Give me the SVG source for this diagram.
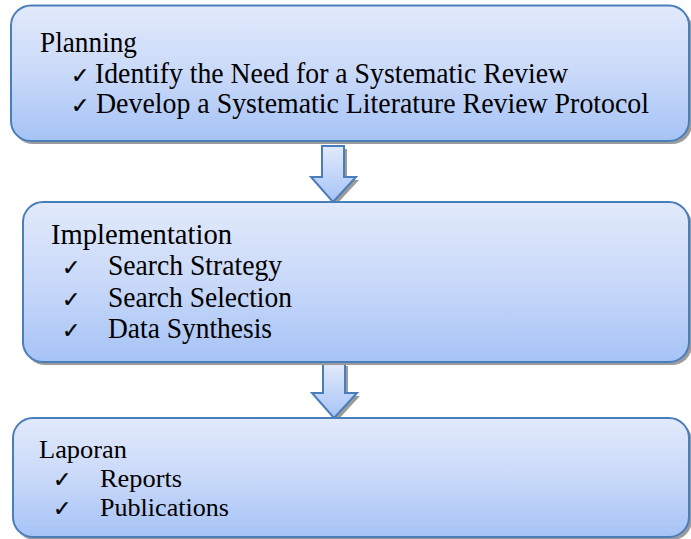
<svg xmlns="http://www.w3.org/2000/svg" width="691" height="539" viewBox="0 0 691 539">
  <defs>
    <linearGradient id="boxFill" x1="0" y1="0" x2="0" y2="1">
      <stop offset="0" stop-color="#e2eafb"/>
      <stop offset="0.5" stop-color="#c9d9f9"/>
      <stop offset="1" stop-color="#a6c3f6"/>
    </linearGradient>
    <linearGradient id="arrowFill" x1="0" y1="0" x2="0" y2="1">
      <stop offset="0" stop-color="#e2eafb"/>
      <stop offset="1" stop-color="#a6c3f6"/>
    </linearGradient>
  </defs>
  <style>
    .shadow { fill: #9b9b9b; }
    .box { fill: url(#boxFill); stroke: #4a7ebb; stroke-width: 2; }
    .arrow { fill: url(#arrowFill); stroke: #4a7ebb; stroke-width: 2; stroke-linejoin: miter; }
    .cambria { font-family: "Liberation Serif", "DejaVu Serif", serif; font-size: 30px; fill: #000; }
    .times { font-family: "Liberation Serif", "Times New Roman", serif; font-size: 26px; fill: #000; }
    .check { font-family: "DejaVu Sans", sans-serif; font-size: 22px; fill: #000; stroke: #000; stroke-width: 0.3; }
  </style>

  <!-- connectors: block arrows between stages -->
  <g id="connectors">
    <path class="shadow" d="M325,149 H347 V180 H359 L336,205 L314,180 H325 Z"/>
    <path class="arrow" d="M322,146 H344 V177 H356 L333,202 L311,177 H322 Z"/>
    <path class="shadow" d="M326,366 H348 V396 H360 L337,421 L315,396 H326 Z"/>
    <path class="arrow" d="M323,363 H345 V393 H357 L334,418 L312,393 H323 Z"/>
  </g>

  <g id="planning">
    <rect class="shadow" x="13" y="8.5" width="679" height="135.5" rx="20"/>
    <rect class="box" x="11" y="5.5" width="678" height="135.5" rx="20"/>
    <text class="cambria" x="40" y="52" textLength="97" lengthAdjust="spacingAndGlyphs">Planning</text>
    <text class="check" x="71" y="83">✓</text>
    <text class="cambria" x="95" y="83" textLength="473" lengthAdjust="spacingAndGlyphs">Identify the Need for a Systematic Review</text>
    <text class="check" x="71" y="113">✓</text>
    <text class="cambria" x="96" y="113" textLength="553" lengthAdjust="spacingAndGlyphs">Develop a Systematic Literature Review Protocol</text>
  </g>

  <g id="implementation">
    <rect class="shadow" x="25" y="205" width="667" height="160" rx="20"/>
    <rect class="box" x="23" y="202" width="666" height="160" rx="20"/>
    <text class="cambria" x="51" y="244" textLength="181" lengthAdjust="spacingAndGlyphs">Implementation</text>
    <text class="check" x="62" y="275">✓</text>
    <text class="cambria" x="108" y="275" textLength="174" lengthAdjust="spacingAndGlyphs">Search Strategy</text>
    <text class="check" x="62" y="307">✓</text>
    <text class="cambria" x="108" y="307" textLength="184" lengthAdjust="spacingAndGlyphs">Search Selection</text>
    <text class="check" x="62" y="338">✓</text>
    <text class="cambria" x="108" y="338" textLength="164" lengthAdjust="spacingAndGlyphs">Data Synthesis</text>
  </g>

  <g id="laporan">
    <rect class="shadow" x="15" y="421" width="677" height="119" rx="20"/>
    <rect class="box" x="13" y="418" width="676" height="119" rx="20"/>
    <text class="times" x="39" y="458" textLength="88" lengthAdjust="spacingAndGlyphs">Laporan</text>
    <text class="check" x="53" y="487">✓</text>
    <text class="times" x="100" y="487" textLength="82" lengthAdjust="spacingAndGlyphs">Reports</text>
    <text class="check" x="53" y="516">✓</text>
    <text class="times" x="100" y="516" textLength="129" lengthAdjust="spacingAndGlyphs">Publications</text>
  </g>
</svg>
